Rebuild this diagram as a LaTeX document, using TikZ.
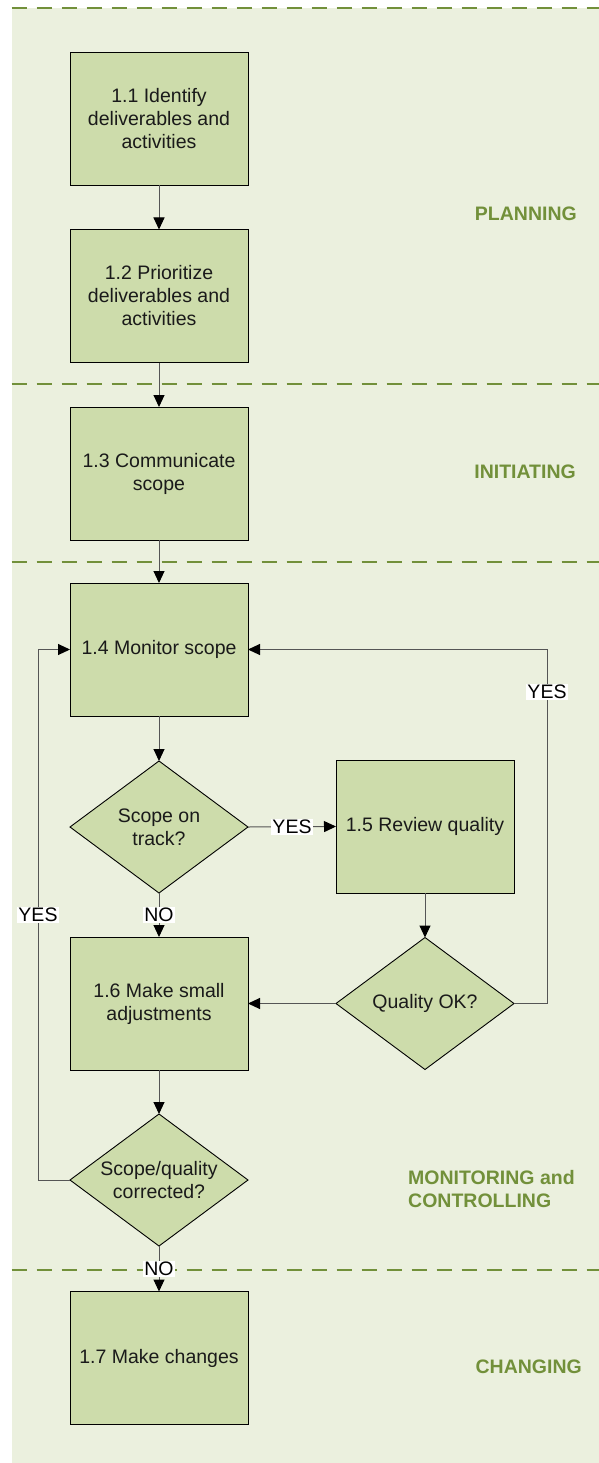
\documentclass[tikz,border=0pt]{standalone}
\usepackage{fontspec}
\setmainfont{Liberation Sans}
\usetikzlibrary{shapes.geometric}
\usetikzlibrary{arrows.meta}

\definecolor{phasebg}{HTML}{EBF0DE}
\definecolor{boxfill}{HTML}{CDDCAB}
\definecolor{phasegreen}{HTML}{72903A}
\definecolor{linegray}{HTML}{555555}
\definecolor{boxtext}{HTML}{1A1A1A}

\newcommand{\boxfont}{\fontsize{19.5}{23}\selectfont}

\tikzset{
  stepbox/.style={draw=black, line width=0.9pt, fill=boxfill, text=boxtext, minimum width=178pt, minimum height=133pt, inner sep=0pt, outer sep=0pt, align=center, font=\boxfont},
  decision/.style={diamond, aspect=1.35, draw=black, line width=0.9pt, fill=boxfill, text=boxtext, minimum width=178pt, minimum height=132pt, inner sep=0pt, outer sep=0pt, align=center, font=\boxfont},
  flow/.style={draw=linegray, line width=1pt, -{Triangle[length=12pt,width=11pt,color=black]}},
  answer/.style={fill=white, inner sep=1pt, font=\boxfont},
  phase/.style={text=phasegreen, inner sep=0pt, align=left, font=\bfseries\boxfont},
  phaseline/.style={draw=phasegreen, line width=1.8pt, dash pattern=on 15pt off 10pt}
}

\begin{document}
\begin{tikzpicture}[x=1pt,y=-1pt]
				\useasboundingbox (0,0) rectangle (599,1463);
				\fill[phasebg] (11.5,8) rectangle (599,1463);
				% phase separators
				\draw[phaseline] (11.5,8) -- (599,8);
				\draw[phaseline] (11.5,384) -- (599,384);
				\draw[phaseline] (11.5,562) -- (599,562);
				\draw[phaseline] (11.5,1270) -- (599,1270);

				\node[phase, anchor=east] (planning) at (577,214) {PLANNING};
				\node[phase, anchor=east] (initiating) at (576,472) {INITIATING};
				\node[phase, anchor=west] (monitoring) at (408,1189) {MONITORING and\\CONTROLLING};
				\node[phase, anchor=east] (changing) at (582,1367) {CHANGING};

				\node[stepbox] (identify) at (159,118.5) {1.1 Identify\\deliverables and\\activities};
				\node[stepbox] (prioritize) at (159,296) {1.2 Prioritize\\deliverables and\\activities};
				\node[stepbox] (communicate) at (159,473.5) {1.3 Communicate\\scope};
				\node[stepbox] (monitor) at (159,649.5) {1.4 Monitor scope};
				\node[decision] (ontrack) at (159,827) {Scope on\\track?};
				\node[stepbox] (review) at (425,826.5) {1.5 Review quality};
				\node[decision] (qualityok) at (425,1003.5) {Quality OK?};
				\node[stepbox] (adjust) at (159,1003.5) {1.6 Make small\\adjustments};
				\node[decision] (corrected) at (159,1180) {Scope/quality\\corrected?};
				\node[stepbox] (changes) at (159,1358) {1.7 Make changes};

				\coordinate (rightloop) at (547,649.5);
				\coordinate (leftloop) at (38,649.5);

				\draw[flow] (identify) -- (prioritize);
				\draw[flow] (prioritize) -- (communicate);
				\draw[flow] (communicate) -- (monitor);
				\draw[flow] (monitor) -- (ontrack);
				\draw[flow] (ontrack.east) -- node[answer] {YES} (review.west);
				\draw[flow] (ontrack.south) -- node[answer] {NO} (adjust.north);
				\draw[flow] (review) -- (qualityok);
				\draw[flow] (qualityok.west) -- (adjust.east);
				\draw[flow] (qualityok.east) -| node[answer, pos=0.94] {YES} (rightloop) -- (monitor.east);
				\draw[flow] (adjust) -- (corrected);
				\draw[flow] (corrected.west) -| node[answer, pos=0.75] {YES} (leftloop) -- (monitor.west);
				\draw[flow] (corrected.south) -- node[answer] {NO} (changes.north);
			\end{tikzpicture}
\end{document}
